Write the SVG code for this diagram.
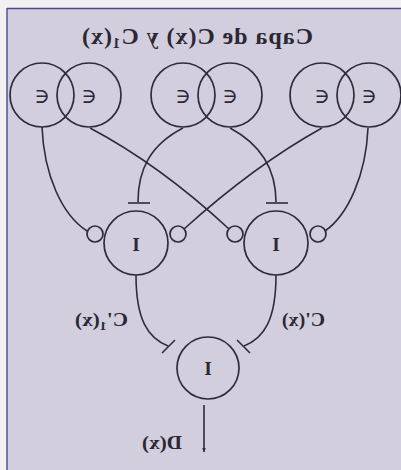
<svg xmlns="http://www.w3.org/2000/svg" width="401" height="470" viewBox="0 0 401 470">
<style>
.n{fill:none;stroke:#2e2c3a;stroke-width:1.7}
.c{fill:none;stroke:#2e2c3a;stroke-width:1.6}
.t{font-family:"Liberation Serif","DejaVu Serif",serif;fill:#2a2834}
.b{font-weight:bold}
</style>
<defs>
<marker id="ar" viewBox="0 0 10 10" refX="9" refY="5" markerWidth="5" markerHeight="8" orient="auto" markerUnits="userSpaceOnUse">
<path d="M0,1 L10,5 L0,9 Z" fill="#2e2c3a"/>
</marker>
</defs>
<rect x="0" y="0" width="401" height="470" fill="#f3eff2"/>
<rect x="7" y="8" width="394" height="462" fill="#d3cedd"/>
<line x1="7" y1="8.5" x2="401" y2="8.5" stroke="#4a4a8a" stroke-width="1.5"/>
<line x1="7" y1="8" x2="7" y2="470" stroke="#4a5a8c" stroke-width="1.5"/>

<g id="connectors">
<path class="c" d="M42,127 C44,175 62,215 87,231"/>
<path class="c" d="M90,128 Q160,165 229,229"/>
<path class="c" d="M183,128 C150,145 138,170 138,202"/>
<line class="c" x1="128" y1="203" x2="150" y2="203"/>
<path class="c" d="M230,128 C262,145 276,170 276,202"/>
<line class="c" x1="266" y1="203" x2="288" y2="203"/>
<path class="c" d="M322,128 Q255,165 184,229"/>
<path class="c" d="M368,128 C366,175 348,215 325,231"/>
<path class="c" d="M136,275 C136,320 148,338 168,346"/>
<line class="c" x1="162" y1="353" x2="175" y2="340"/>
<path class="c" d="M276,275 C276,320 264,338 244,346"/>
<line class="c" x1="237" y1="340" x2="250" y2="353"/>
<line class="c" x1="204" y1="405" x2="204" y2="452" marker-end="url(#ar)"/>
</g>

<g id="e1"><circle class="n" cx="42" cy="95" r="32"/></g>
<g id="e2"><circle class="n" cx="89" cy="95" r="32"/></g>
<g id="e3"><circle class="n" cx="183" cy="95" r="32"/></g>
<g id="e4"><circle class="n" cx="230" cy="95" r="32"/></g>
<g id="e5"><circle class="n" cx="322" cy="95" r="32"/></g>
<g id="e6"><circle class="n" cx="369" cy="95" r="32"/></g>
<g id="i1"><circle class="n" cx="136" cy="243" r="32"/></g>
<g id="i2"><circle class="n" cx="276" cy="243" r="32"/></g>
<g id="i3"><circle class="n" cx="208" cy="368" r="31"/></g>
<g id="s1"><circle class="n" cx="95" cy="234" r="8"/></g>
<g id="s2"><circle class="n" cx="178" cy="234" r="8"/></g>
<g id="s3"><circle class="n" cx="235" cy="234" r="8"/></g>
<g id="s4"><circle class="n" cx="318" cy="234" r="8"/></g>

<g id="labels" transform="matrix(-1 0 0 1 401 0)">
<text class="t b" x="88" y="44" font-size="24" textLength="231" lengthAdjust="spacing">Capa de C(x) y C<tspan font-size="15" dy="4">1</tspan><tspan dy="-4">(x)</tspan></text>
<g font-family="DejaVu Serif,serif" font-size="21" fill="#2a2834" text-anchor="middle">
<text x="359" y="103">∈</text>
<text x="312" y="103">∈</text>
<text x="218" y="103">∈</text>
<text x="171" y="103">∈</text>
<text x="79" y="103">∈</text>
<text x="32" y="103">∈</text>
</g>
<text class="t b" x="265" y="251" font-size="19" text-anchor="middle">I</text>
<text class="t b" x="125" y="251" font-size="19" text-anchor="middle">I</text>
<text class="t b" x="193" y="375" font-size="19" text-anchor="middle">I</text>
<text class="t b" x="273" y="326" font-size="18" textLength="53" lengthAdjust="spacingAndGlyphs">C'<tspan font-size="12" dy="4">1</tspan><tspan dy="-4">(x)</tspan></text>
<text class="t b" x="76" y="326" font-size="18" textLength="43" lengthAdjust="spacingAndGlyphs">C'(x)</text>
<text class="t b" x="219" y="449" font-size="18" textLength="40" lengthAdjust="spacingAndGlyphs">D(x)</text>
</g>
</svg>
